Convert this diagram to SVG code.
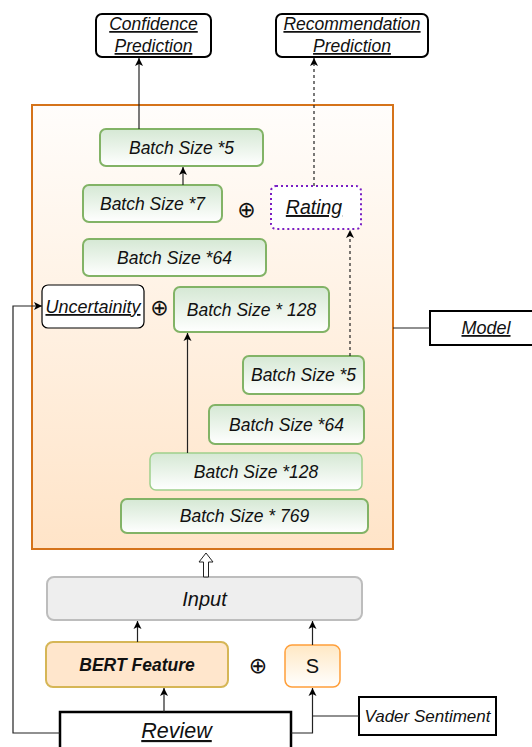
<svg xmlns="http://www.w3.org/2000/svg" width="532" height="747" viewBox="0 0 532 747">
<defs>
<linearGradient id="gCont" x1="0" y1="0" x2="0" y2="1"><stop offset="0" stop-color="#fffdfb"/><stop offset="1" stop-color="#ffe4c8"/></linearGradient>
<linearGradient id="gGreen" x1="0" y1="0" x2="0" y2="1"><stop offset="0" stop-color="#d5e8d4"/><stop offset="1" stop-color="#ffffff"/></linearGradient>
<linearGradient id="gS" x1="0" y1="0" x2="0" y2="1"><stop offset="0" stop-color="#ffe8c4"/><stop offset="1" stop-color="#ffffff"/></linearGradient>
<marker id="ah" markerUnits="userSpaceOnUse" markerWidth="10" markerHeight="10" viewBox="0 0 10 10" refX="9" refY="5" orient="auto"><path d="M1,1 L9,5 L1,9 L3,5 Z" fill="#000"/></marker>
<style>
.green{fill:url(#gGreen);stroke:#82b366;stroke-width:2}
.bt{font-family:"Liberation Sans",Arial,sans-serif;font-style:italic;font-size:17.5px;fill:#111;text-anchor:middle}
.lbl{font-family:"Liberation Sans",Arial,sans-serif;font-style:italic;text-decoration:underline;fill:#111;text-anchor:middle}
.plain{font-family:"Liberation Sans",Arial,sans-serif;fill:#111;text-anchor:middle}
.op{font-family:"DejaVu Sans",sans-serif;font-size:22px;fill:#111;text-anchor:middle}
.ln{fill:none;stroke:#222;stroke-width:1.2}
.dash{fill:none;stroke:#222;stroke-width:1.2;stroke-dasharray:3,3}
</style>
</defs>
<g id="model-container"><rect x="32" y="105" width="361" height="444" fill="url(#gCont)" stroke="#d5731a" stroke-width="2"/></g>
<g id="confidence"><rect x="96" y="14" width="115" height="43" rx="6" fill="#fff" stroke="#000" stroke-width="2"/><text class="lbl" font-size="17.5px" x="153.5" y="30">Confidence</text><text class="lbl" font-size="17.5px" x="153.5" y="52">Prediction</text></g>
<g id="recommendation"><rect x="276" y="14" width="152" height="43" rx="6" fill="#fff" stroke="#000" stroke-width="2"/><text class="lbl" font-size="17.5px" x="352" y="30">Recommendation</text><text class="lbl" font-size="17.5px" x="352" y="52">Prediction</text></g>
<g id="bs5a"><rect class="green" x="100" y="129" width="163" height="37" rx="6"/><text class="bt" x="181.5" y="153.5">Batch Size *5</text></g>
<g id="bs7"><rect class="green" x="83" y="185" width="139" height="37" rx="6"/><text class="bt" x="152.5" y="209.5">Batch Size *7</text></g>
<g id="op1"><text class="op" x="246.5" y="216.5">⊕</text></g>
<g id="rating"><rect x="271" y="186" width="90" height="43" rx="5" fill="#fff" stroke="#7a1fc4" stroke-width="2" stroke-dasharray="2,3"/><text class="lbl" font-size="19.5px" x="314" y="214">Rating</text></g>
<g id="bs64a"><rect class="green" x="83" y="239" width="183" height="37" rx="6"/><text class="bt" x="174.5" y="263.5">Batch Size *64</text></g>
<g id="uncertainity"><rect x="42" y="285" width="102" height="43" rx="6" fill="#fff" stroke="#000" stroke-width="1.2"/><text class="lbl" font-size="18px" x="93" y="313">Uncertainity</text></g>
<g id="op2"><text class="op" x="159.5" y="314.5">⊕</text></g>
<g id="bs128a"><rect class="green" x="174" y="287" width="155" height="45" rx="6"/><text class="bt" x="251.5" y="315.5">Batch Size * 128</text></g>
<g id="model"><rect x="430" y="311" width="112" height="34" fill="#fff" stroke="#000" stroke-width="2"/><text class="lbl" font-size="18px" x="486" y="334">Model</text></g>
<g id="bs5b"><rect class="green" x="243" y="356" width="121" height="38" rx="6"/><text class="bt" x="303.5" y="381">Batch Size *5</text></g>
<g id="bs64b"><rect class="green" x="209" y="405" width="155" height="39" rx="6"/><text class="bt" x="286.5" y="430.5">Batch Size *64</text></g>
<g id="bs128b"><rect x="150" y="453" width="212" height="37" rx="6" fill="url(#gGreen)" stroke="#9fcf8c" stroke-width="1.5"/><text class="bt" x="256" y="477.5">Batch Size *128</text></g>
<g id="bs769"><rect class="green" x="121" y="499" width="247" height="34" rx="6"/><text class="bt" x="244.5" y="522">Batch Size * 769</text></g>
<g id="input"><rect x="47" y="577" width="315" height="43" rx="7" fill="#eeeeee" stroke="#bdbdbd" stroke-width="2"/><text class="plain" font-style="italic" font-size="20px" x="204.5" y="605.5">Input</text></g>
<g id="bert"><rect x="46" y="642" width="182" height="45" rx="7" fill="#ffe6cc" stroke="#d6b656" stroke-width="2"/><text class="plain" font-style="italic" font-weight="bold" font-size="17.5px" x="137" y="670.5">BERT Feature</text></g>
<g id="op3"><text class="op" x="258" y="672.5">⊕</text></g>
<g id="s"><rect x="285" y="645" width="55" height="42" rx="7" fill="url(#gS)" stroke="#ff9f3a" stroke-width="1.5"/><text class="plain" font-size="20px" x="312.5" y="673">S</text></g>
<g id="vader"><rect x="359" y="697" width="137" height="38" fill="#fff" stroke="#000" stroke-width="2"/><text class="plain" font-style="italic" font-size="17px" x="427.5" y="722">Vader Sentiment</text></g>
<g id="review"><rect x="60" y="712" width="231" height="45" fill="#fff" stroke="#000" stroke-width="2.5"/><text class="lbl" font-size="21.5px" x="176.5" y="738">Review</text></g>
<g id="connectors">
<line class="ln" x1="139" y1="129" x2="139" y2="58" marker-end="url(#ah)"/>
<line class="ln" x1="183" y1="185" x2="183" y2="167" marker-end="url(#ah)"/>
<line class="dash" x1="314" y1="186" x2="314" y2="58" marker-end="url(#ah)"/>
<line class="dash" x1="350" y1="356" x2="350" y2="230" marker-end="url(#ah)"/>
<line class="ln" x1="187.5" y1="453" x2="187.5" y2="333" marker-end="url(#ah)"/>
<polyline class="ln" stroke="#444" points="60,733 13,733 13,306 42,306" marker-end="url(#ah)"/>
<line class="ln" stroke-width="2" x1="164" y1="712" x2="164" y2="688" marker-end="url(#ah)"/>
<polyline class="ln" points="291,733 312.5,733 312.5,688" marker-end="url(#ah)"/>
<line class="ln" x1="359" y1="716" x2="312.5" y2="716"/>
<line class="ln" x1="137.5" y1="642" x2="137.5" y2="621" marker-end="url(#ah)"/>
<line class="ln" x1="312.5" y1="645" x2="312.5" y2="621" marker-end="url(#ah)"/>
<line class="ln" stroke="#444" x1="393" y1="328" x2="430" y2="328"/>
<polygon points="203.5,577 208.5,577 208.5,562 213,562 206,553 199,562 203.5,562" fill="#fff" stroke="#222" stroke-width="1"/>
</g>
</svg>
